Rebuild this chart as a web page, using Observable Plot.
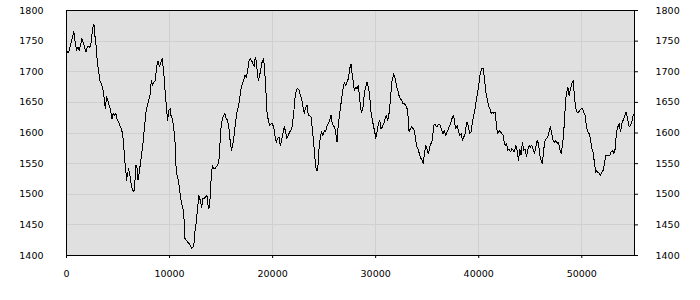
<!DOCTYPE html>
<html>
<head>
<meta charset="utf-8">
<script src="https://cdn.jsdelivr.net/npm/d3@7"></script>
<script src="https://cdn.jsdelivr.net/npm/@observablehq/plot@0.6"></script>
<style>
  html, body { margin: 0; padding: 0; background: #ffffff; }
  #chart svg { display: block; }
</style>
</head>
<body>
<div id="chart"></div>
<script>
// Series: [x position, value]
const points = [
  [0,1734],[194,1731],[454,1748],[713,1766],[842,1748],[972,1735],[1102,1740],[1231,1735],[1361,1743],[1490,1754],
  [1620,1748],[1750,1740],[1879,1732],[2009,1740],[2138,1742],[2268,1740],[2398,1748],[2527,1770],[2657,1778],[2786,1754],
  [2916,1737],[2981,1716],[3110,1702],[3240,1686],[3370,1680],[3499,1675],[3629,1661],[3758,1640],[3888,1659],[4018,1653],
  [4147,1645],[4277,1637],[4406,1623],[4536,1632],[4666,1629],[4795,1632],[4925,1621],[5054,1618],[5184,1612],[5314,1607],
  [5443,1599],[5573,1574],[5638,1558],[5767,1536],[5832,1523],[5897,1531],[6026,1542],[6156,1531],[6286,1515],[6415,1507],
  [6545,1504],[6674,1528],[6739,1547],[6869,1542],[6934,1523],[7063,1536],[7193,1553],[7322,1569],[7452,1588],[7582,1612],
  [7711,1634],[7841,1645],[7970,1653],[8100,1661],[8230,1686],[8359,1678],[8489,1683],[8618,1686],[8748,1708],[8878,1718],
  [9007,1708],
  [9162,1716],[9291,1721],[9421,1702],[9550,1672],[9680,1645],[9809,1621],[9939,1637],[10068,1640],[10133,1629],[10262,1623],
  [10392,1610],[10521,1588],[10586,1564],[10650,1536],[10780,1528],[10909,1517],[11039,1498],[11168,1485],[11298,1477],[11427,1455],
  [11492,1428],[11621,1425],[11751,1422],[11880,1420],[12010,1417],[12139,1411],[12268,1414],[12398,1422],[12463,1439],[12592,1455],
  [12722,1477],[12851,1498],[12980,1490],[13110,1479],[13239,1493],[13369,1493],[13498,1496],[13627,1498],[13757,1479],[13822,1477],
  [13951,1496],[14016,1520],[14145,1547],[14275,1542],[14404,1542],[14534,1545],[14663,1547],[14792,1555],[14857,1574],[14987,1607],
  [15116,1623],[15246,1629],[15375,1632],[15504,1623],[15634,1621],[15763,1607],[15893,1585],[16022,1572],[16152,1583],[16281,1599],
  [16410,1618],[16540,1634],[16669,1642],[16799,1656],[16928,1672],[17058,1680],[17187,1686],[17316,1694],[17446,1691],[17575,1702],
  [17705,1718],[17834,1721],[17964,1718],[18093,1713],[18223,1708],
  [18288,1721],[18353,1724],[18482,1705],[18611,1686],[18741,1694],[18870,1705],[19000,1718],[19129,1721],[19194,1710],[19323,1678],
  [19388,1656],[19453,1634],[19582,1621],[19712,1612],[19841,1615],[19971,1615],[20100,1610],[20229,1596],[20359,1585],[20488,1591],
  [20618,1593],[20747,1580],[20877,1588],[21006,1599],[21136,1610],[21265,1602],[21394,1591],[21524,1596],[21653,1602],[21783,1604],
  [21912,1612],[22042,1632],[22171,1656],[22301,1670],[22430,1673],[22559,1670],[22689,1661],[22818,1656],[22948,1642],[23077,1632],
  [23207,1642],[23336,1645],[23465,1629],[23595,1629],[23724,1626],[23854,1607],[23983,1585],[24113,1558],[24242,1539],[24372,1539],
  [24501,1574],[24630,1593],[24760,1602],[24889,1596],[25019,1604],[25148,1602],[25278,1612],[25407,1615],[25536,1621],[25666,1629],
  [25795,1615],[25925,1612],[26054,1607],[26184,1593],[26249,1585],[26313,1604],[26442,1623],[26572,1640],[26701,1656],[26831,1672],
  [26960,1683],[27090,1678],[27219,1683],[27349,1689],
  [27479,1705],[27608,1713],[27673,1702],[27802,1686],[27932,1670],[28061,1675],[28191,1672],[28320,1678],[28449,1656],[28579,1637],
  [28644,1634],[28773,1642],[28902,1664],[29032,1675],[29161,1683],[29291,1675],[29420,1661],[29550,1634],[29679,1621],[29808,1610],
  [29938,1599],[30003,1591],[30132,1602],[30262,1615],[30391,1621],[30520,1607],[30650,1610],[30779,1615],[30909,1623],[31038,1629],
  [31168,1621],[31297,1632],[31427,1653],[31556,1683],[31685,1691],[31750,1697],[31880,1689],[32009,1678],[32138,1670],[32268,1661],
  [32397,1656],[32527,1653],[32656,1648],[32786,1648],[32915,1645],[33045,1640],[33174,1623],[33239,1602],[33368,1607],[33497,1610],
  [33627,1607],[33756,1604],[33886,1588],[34015,1577],[34145,1572],[34274,1564],[34404,1558],[34533,1555],[34598,1550],[34727,1564],
  [34857,1580],[34986,1574],[35116,1566],[35245,1577],[35375,1583],[35504,1588],[35633,1612],[35763,1615],[35892,1610],[36022,1612],
  [36151,1615],[36281,1612],
  [36411,1604],[36541,1599],[36670,1604],[36800,1596],[36929,1602],[37059,1607],[37188,1612],[37318,1618],[37447,1626],[37576,1629],
  [37641,1618],[37771,1607],[37900,1612],[38029,1604],[38159,1596],[38288,1599],[38418,1588],[38547,1593],[38677,1599],[38806,1615],
  [38871,1618],[39000,1610],[39130,1599],[39259,1602],[39389,1618],[39518,1629],[39647,1640],[39777,1656],[39906,1667],[40036,1683],
  [40165,1699],[40295,1705],[40424,1705],[40554,1689],[40683,1667],[40812,1656],[40942,1645],[41071,1640],[41201,1632],[41330,1634],
  [41460,1632],[41589,1634],[41654,1626],[41718,1610],[41848,1599],[41977,1604],[42107,1602],[42236,1599],[42366,1596],[42430,1588],
  [42560,1580],[42689,1583],[42819,1572],[42948,1574],[43078,1569],[43207,1574],[43336,1572],[43466,1569],[43595,1580],[43725,1572],
  [43854,1555],[43984,1574],[44113,1564],[44243,1585],[44372,1572],[44501,1574],[44631,1561],[44760,1572],[44890,1580],[45019,1577],
  [45149,1580],[45278,1574],[45408,1566],[45537,1577],
  [45667,1588],[45796,1583],[45926,1564],[46055,1555],[46185,1550],[46314,1574],[46444,1588],[46573,1591],[46702,1593],[46832,1602],
  [46961,1610],[47091,1599],[47220,1588],[47350,1585],[47479,1588],[47608,1583],[47738,1585],[47867,1574],[47997,1566],[48126,1580],
  [48256,1602],[48320,1623],[48450,1656],[48579,1670],[48644,1675],[48773,1661],[48903,1672],[49032,1680],[49162,1686],[49226,1672],
  [49356,1648],[49421,1640],[49550,1634],[49680,1634],[49809,1637],[49938,1640],[50068,1640],[50197,1634],[50327,1629],[50456,1610],
  [50586,1602],[50715,1599],[50844,1591],[50974,1574],[51103,1569],[51233,1550],[51362,1536],[51427,1539],[51556,1536],[51686,1534],
  [51815,1531],[51945,1536],[52074,1539],[52204,1550],[52333,1564],[52462,1564],[52592,1564],[52721,1564],[52851,1569],[52980,1572],
  [53110,1566],[53239,1574],[53369,1602],[53498,1610],[53627,1615],[53757,1602],[53886,1615],[54016,1621],[54145,1626],[54275,1634],
  [54339,1632],[54469,1621],[54598,1610],[54728,1612],[54857,1618],[54987,1629],[55116,1632]
];

const xTicks = [0, 10000, 20000, 30000, 40000, 50000];
const yTicks = [1400, 1450, 1500, 1550, 1600, 1650, 1700, 1750, 1800];
const xDomain = [0, 55116];
const yDomain = [1400, 1800];

const data = points.map(([x, y]) => ({x, y}));
const fmt = d => String(d);

const chart = Plot.plot({
  width: 700,
  height: 300,
  marginLeft: 66,
  marginRight: 66,
  marginTop: 10,
  marginBottom: 45,
  style: {fontFamily: "DejaVu Sans", fontSize: "9.5px", background: "#ffffff", color: "#000000"},
  x: {domain: xDomain, axis: null},
  y: {domain: yDomain, axis: null},
  marks: [
    Plot.frame({fill: "#e0e0e0", stroke: "none"}),
    Plot.gridX(xTicks, {stroke: "#d0d0d0", strokeOpacity: 1, shapeRendering: "crispEdges"}),
    Plot.gridY(yTicks, {stroke: "#d0d0d0", strokeOpacity: 1, shapeRendering: "crispEdges"}),
    Plot.line(data, {x: "x", y: "y", stroke: "#000000", strokeWidth: 1, shapeRendering: "crispEdges"}),
    Plot.axisY(yTicks, {anchor: "left", tickSize: 0, tickPadding: 23, tickFormat: fmt, label: null, fill: "#000"}),
    Plot.axisY(yTicks, {anchor: "right", tickSize: 3, tickPadding: 18, tickFormat: fmt, label: null, stroke: "#000", fill: "#000"}),
    Plot.axisX(xTicks, {anchor: "bottom", tickSize: 3, tickPadding: 12, tickFormat: fmt, label: null, stroke: "#000", fill: "#000"}),
    Plot.frame({stroke: "#000000", strokeWidth: 1, shapeRendering: "crispEdges"})
  ]
});

document.getElementById("chart").appendChild(chart);
</script>
</body>
</html>
